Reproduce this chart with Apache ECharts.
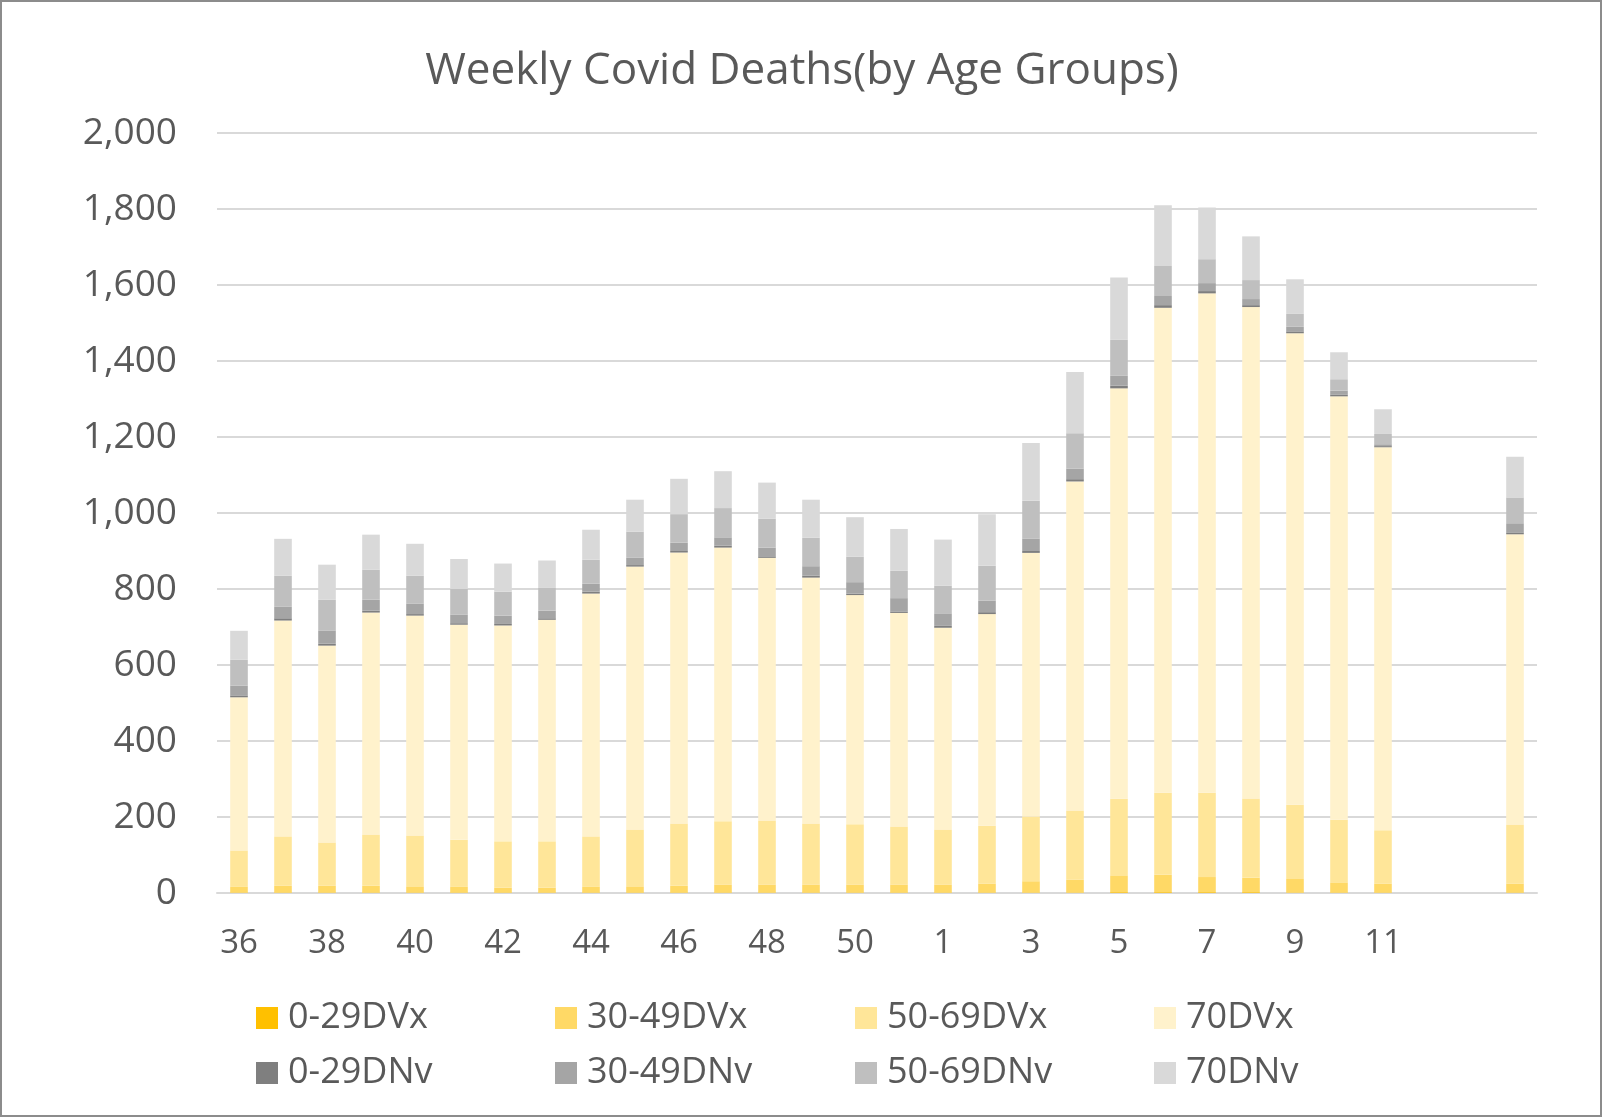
<!DOCTYPE html>
<html>
<head>
<meta charset="utf-8">
<script src="https://cdn.jsdelivr.net/npm/echarts@6/dist/echarts.min.js"></script>
<style>
html,body{margin:0;padding:0;background:#fff;}
#chart{width:1604px;height:1119px;}
</style>
</head>
<body>
<div id="chart"></div>
<script>
// Week labels (blank labels for the trailing categories)
const categories = ['36','37','38','39','40','41','42','43','44','45','46','47','48','49','50','51',
  '1','2','3','4','5','6','7','8','9','10','11','','',''];

const seriesNames = ['0-29DVx','30-49DVx','50-69DVx','70DVx','0-29DNv','30-49DNv','50-69DNv','70DNv'];

const v0_29DVx  = [1,1,1,1,1,1,1,1,1,1,1,1,1,1,1,1, 1,1,1,1,2,2,2,2,1,1,1, null,null,1];
const v30_49DVx = [15,18,18,18,15,15,13,13,15,15,18,21,21,21,21,21, 21,24,30,34,43,46,40,38,36,27,24, null,null,24];
const v50_69DVx = [96,130,114,135,135,124,122,122,133,151,164,167,169,161,159,153, 145,152,170,182,203,216,222,209,195,165,140, null,null,155];
const v70DVx    = [403,568,518,584,579,566,568,583,639,692,713,720,691,647,603,562, 531,557,694,866,1080,1276,1314,1293,1241,1114,1008, null,null,764];
const v0_29DNv  = [5,6,5,5,4,4,4,4,5,4,4,5,4,5,4,4, 5,5,5,6,7,7,6,5,5,5,3, null,null,5];
const v30_49DNv = [26,31,35,29,28,23,22,20,21,19,22,22,23,25,30,35, 33,30,33,28,26,24,21,16,12,10,5, null,null,24];
const v50_69DNv = [68,81,81,79,73,67,63,61,63,69,75,77,76,75,67,72, 73,92,99,93,95,79,63,50,34,30,27, null,null,68];
const v70DNv    = [76,97,92,92,84,79,74,71,79,84,93,97,95,100,104,110, 121,136,152,161,164,160,136,115,91,71,65, null,null,107];

const yTicks = [0,200,400,600,800,1000,1200,1400,1600,1800,2000];

const seriesValues = [v0_29DVx,v30_49DVx,v50_69DVx,v70DVx,v0_29DNv,v30_49DNv,v50_69DNv,v70DNv];
const colors = ['#FFC000','#FFD966','#FFE699','#FFF2CC','#7F7F7F','#A5A5A5','#BFBFBF','#D9D9D9'];

const chart = echarts.init(document.getElementById('chart'));

const legendCols = [256, 555, 855, 1154];
const legendRows = [1000, 1055];
const legends = seriesNames.map((n, i) => ({
  data: [n],
  left: legendCols[i % 4],
  top: legendRows[Math.floor(i / 4)],
  padding: 0,
  itemWidth: 22,
  itemHeight: 22,
  itemGap: 10,
  icon: 'rect',
  selectedMode: false,
  textStyle: { fontFamily: 'Open Sans', fontSize: 36, color: '#595959', padding: [0,0,0,5] }
}));

chart.setOption({
  animation: false,
  color: colors,
  title: {
    text: 'Weekly Covid Deaths(by Age Groups)',
    left: 'center',
    top: 44,
    textStyle: { fontFamily: 'Open Sans', fontSize: 44, fontWeight: 'normal', color: '#595959' }
  },
  legend: legends,
  grid: { left: 217, top: 133, width: 1320, height: 760, containLabel: false },
  xAxis: {
    type: 'category',
    data: categories,
    axisLine: { lineStyle: { color: '#D9D9D9', width: 2 } },
    axisTick: { show: false },
    axisLabel: { interval: 1, margin: 34, fontFamily: 'Open Sans', fontSize: 33, color: '#595959' }
  },
  yAxis: {
    type: 'value',
    min: yTicks[0],
    max: yTicks[yTicks.length - 1],
    interval: 200,
    axisLine: { show: false },
    axisTick: { show: false },
    splitLine: { lineStyle: { color: '#D9D9D9', width: 2 } },
    axisLabel: {
      margin: 40,
      fontFamily: 'Open Sans', fontSize: 37, color: '#595959',
      formatter: v => v.toLocaleString('en-US')
    }
  },
  series: seriesNames.map((n, i) => ({
    name: n,
    type: 'bar',
    stack: 'total',
    barWidth: '40%',
    data: seriesValues[i],
    itemStyle: { color: colors[i] }
  })),
  graphic: [{
    type: 'rect',
    shape: { x: 1, y: 1, width: 1600, height: 1115 },
    style: { fill: null, stroke: '#8C8C8C', lineWidth: 2 },
    silent: true
  }]
});
</script>
</body>
</html>
